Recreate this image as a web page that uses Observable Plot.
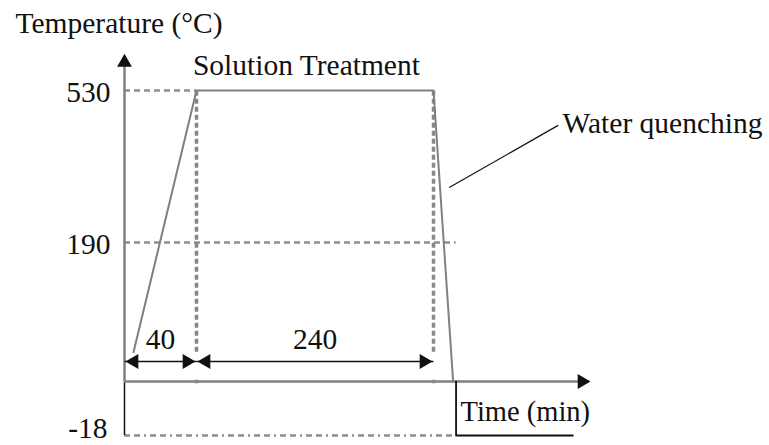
<!DOCTYPE html>
<html>
<head>
<meta charset="utf-8">
<script src="https://cdn.jsdelivr.net/npm/d3@7"></script>
<script src="https://cdn.jsdelivr.net/npm/@observablehq/plot@0.6"></script>
<style>
  body { margin: 0; background: #fff; }
  svg text { font-family: "Liberation Serif", "Times New Roman", serif; }
</style>
</head>
<body>
<div id="chart"></div>
<script>
// Heating profile: ramp up, solution hold at 530 °C, water quench
const profileTime = [5, 40, 280, 300];
const profileTemp = [40, 530, 530, 0];
// Below the time axis: quench carried on to the sub-zero hold
const tailTime = [303, 303, 422];
const tailTemp = [0, -18, -18];
// Temperatures marked on the vertical axis
const tempTicks = [530, 190];
const tempLabels = ["530", "190"];
const coldTick = [-18];
const coldLabel = ["-18"];
// Dashed guide lines and where they stop
const guideTemp = [530, 190];
const guideEnd = [40, 303];
const coldEnd = [303];
// Duration brackets above the time axis
const spanStart = [0, 40];
const spanEnd = [40, 280];
const spanLabels = ["40", "240"];
// Stage boundaries (dotted verticals)
const stageBounds = [40, 280];
// Axis extents
const yAxisTop = 612;
const xAxisEnd = 440;
// Leader line for the quench label
const leaderFrom = [296, 313];
const leaderTo = [407, 452];

const FONT = "'Liberation Serif', 'Times New Roman', serif";
const INK = "#111";
const GRAY = "#808080";

// Filled triangle arrowheads: tip offset from the symbol centre
const HEAD_R = 5.5;
const headY = Math.sqrt((Math.PI * HEAD_R * HEAD_R) / (3 * Math.sqrt(3)));
const tipOff = 2 * headY;

const profile = profileTime.map((t, i) => ({t, v: profileTemp[i]}));
const tail = tailTime.map((t, i) => ({t, v: tailTemp[i]}));
const ticks = tempTicks.map((v, i) => ({v, label: tempLabels[i]}));
const coldTicks = coldTick.map((v, i) => ({v, label: coldLabel[i], end: coldEnd[i]}));
const guides = guideTemp.map((v, i) => ({v, end: guideEnd[i]}));
const spans = spanStart.map((s, i) => ({s, e: spanEnd[i], mid: (s + spanEnd[i]) / 2, label: spanLabels[i]}));

const txt = {fontSize: 29.5, fill: INK, fontFamily: FONT};

const chart = Plot.plot({
  width: 769,
  height: 445,
  margin: 0,
  style: `font-family: ${FONT}; background: #fff;`,
  x: {type: "linear", domain: [0, 40, 280, 440], range: [124, 196, 433, 590], axis: null},
  y: {type: "linear", domain: [-18, 0, 190, 530], range: [435, 381, 242, 90], axis: null},
  marks: [
    // dashed temperature guides
    Plot.ruleY(guides, {y: "v", x1: 0, x2: "end", stroke: "#8e8e8e", strokeWidth: 2.4, strokeDasharray: "6,4"}),
    Plot.ruleY(coldTicks, {y: "v", x1: 0, x2: "end", stroke: "#8e8e8e", strokeWidth: 2.4, strokeDasharray: "6,4,6,4,2,4"}),
    // dotted stage boundaries
    Plot.ruleX(stageBounds, {x: d => d, y1: profileTemp[0], y2: 530, stroke: "#888", strokeWidth: 3.5, strokeDasharray: "5,3"}),
    // axes
    Plot.ruleX([0], {y1: 0, y2: yAxisTop - 8, stroke: GRAY, strokeWidth: 2.5}),
    Plot.ruleX([0], {y1: -18, y2: 0, stroke: INK, strokeWidth: 1.5}),
    Plot.ruleY([0], {x1: 0, x2: xAxisEnd - 8, stroke: GRAY, strokeWidth: 2.5}),
    Plot.dot([{t: 0, v: yAxisTop}], {x: "t", y: "v", symbol: "triangle", r: HEAD_R, fill: INK, stroke: null, dy: tipOff}),
    Plot.dot([{t: xAxisEnd, v: 0}], {x: "t", y: "v", symbol: "triangle", r: HEAD_R, rotate: 90, fill: INK, stroke: null, dx: -tipOff}),
    Plot.dot(stageBounds, {x: d => d, y: 0, r: 2, fill: "#888", stroke: null, symbol: "square"}),
    // temperature profile
    Plot.line(profile, {x: "t", y: "v", stroke: GRAY, strokeWidth: 2, curve: "linear"}),
    Plot.line(tail, {x: "t", y: "v", stroke: INK, strokeWidth: 1.8, curve: "linear"}),
    // duration brackets
    Plot.link(spans, {x1: "s", x2: "e", y1: 0, y2: 0, dy: -20, stroke: INK, strokeWidth: 1.6}),
    Plot.dot(spans, {x: "s", y: 0, dy: -20, dx: tipOff + 1, symbol: "triangle", rotate: -90, r: HEAD_R, fill: INK, stroke: null}),
    Plot.dot(spans, {x: "e", y: 0, dy: -20, dx: -tipOff - 1, symbol: "triangle", rotate: 90, r: HEAD_R, fill: INK, stroke: null}),
    Plot.text(spans, {x: "mid", y: 0, dy: -33, text: "label", lineAnchor: "bottom", ...txt}),
    // quench leader line
    Plot.link([{}], {x1: leaderFrom[0], y1: leaderFrom[1], x2: leaderTo[0], y2: leaderTo[1], stroke: INK, strokeWidth: 1.2}),
    // axis values
    Plot.text(ticks, {x: 0, y: "v", text: "label", textAnchor: "end", dx: -14, dy: 11, lineAnchor: "bottom", ...txt}),
    Plot.text(coldTicks, {x: 0, y: "v", text: "label", textAnchor: "end", dx: -17, dy: 2, lineAnchor: "bottom", ...txt}),
    // annotations
    Plot.text(["Temperature (°C)"], {frameAnchor: "top-left", dx: 15, dy: 12, lineAnchor: "top", ...txt}),
    Plot.text(["Solution Treatment"], {x: 38, y: 564, textAnchor: "start", lineAnchor: "bottom", ...txt}),
    Plot.text(["Water quenching"], {x: 411.5, y: 436, textAnchor: "start", lineAnchor: "bottom", ...txt}),
    Plot.text(["Time (min)"], {x: 307.5, y: -13.3, textAnchor: "start", lineAnchor: "bottom", ...txt, fontSize: 28.5})
  ]
});
document.getElementById("chart").append(chart);
</script>
</body>
</html>
